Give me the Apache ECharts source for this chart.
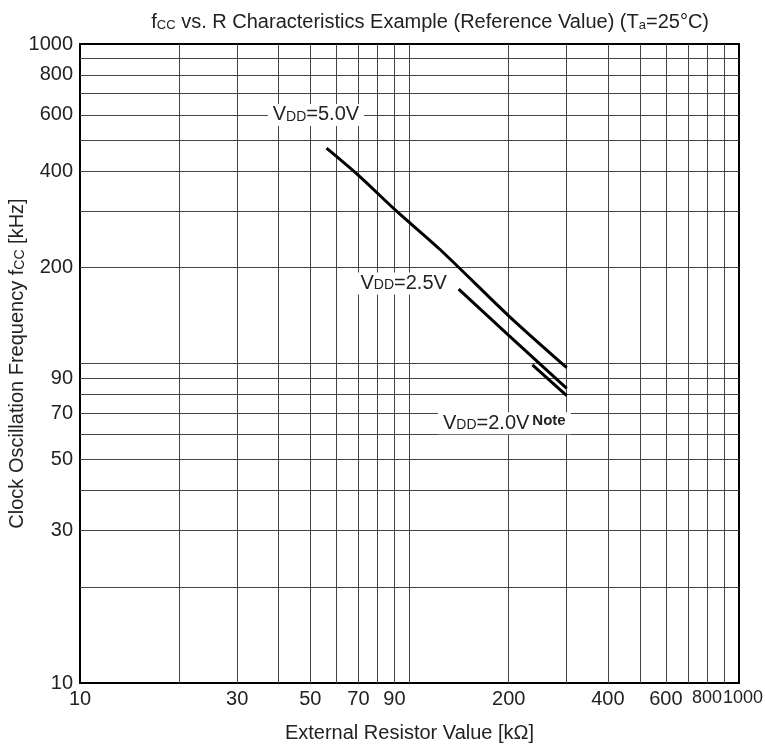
<!DOCTYPE html>
<html>
<head>
<meta charset="utf-8">
<title>fcc vs. R</title>
<script src="https://cdn.jsdelivr.net/npm/echarts@6/dist/echarts.min.js"></script>
<style>
html, body { margin: 0; padding: 0; background: #fff; }
#chart { width: 765px; height: 749px; }
</style>
</head>
<body>
<div id="chart"></div>
<script>
// external resistor [kOhm] vs clock frequency [kHz]
var r50 = [56, 70, 91, 124, 200, 300];
var f50 = [472, 388, 301, 227, 141, 97];
var r25 = [141, 200, 300];
var f25 = [171, 122.5, 83.6];
var r20 = [236, 300];
var f20 = [99, 79.3];

// log grid lines inside the frame, and the printed tick labels
var gridValues = [20, 30, 40, 50, 60, 70, 80, 90, 100, 200, 300, 400, 500, 600, 700, 800, 900];
var tickLabels = [10, 30, 50, 70, 90, 200, 400, 600, 800, 1000];
var xLastLabel = [1000]; // drawn on its own axis so the crowded 800/1000 pair both stay

var FONT = 'Liberation Sans, Arial, Helvetica, sans-serif';
var lg = Math.log10;

function pairs(r, f) {
	return r.map(function (v, i) { return [lg(v), lg(f[i])]; });
}
function fmt(v) {
	var n = Math.round(Math.pow(10, v));
	return n >= 800 ? '{n|' + n + '}' : String(n);
}
function note(text, x, y) {
	return {
		symbol: 'rect',
		symbolSize: 1,
		itemStyle: { color: 'rgba(0,0,0,0)' },
		label: {
			show: true,
			position: 'inside',
			formatter: text,
			color: '#222',
			fontSize: 20,
			fontFamily: FONT,
			backgroundColor: '#fff',
			padding: [1, 5],
			rich: {
				s: { fontSize: 14, fontFamily: FONT, color: '#222', verticalAlign: 'bottom', padding: [0, 0, 1, 0] },
				b: { fontSize: 15, fontWeight: 'bold', fontFamily: FONT, color: '#222', verticalAlign: 'top', padding: [0, 0, 0, 3] }
			}
		},
		data: [{ coord: [lg(x), lg(y)] }]
	};
}

var chart = echarts.init(document.getElementById('chart'));

var axisBase = {
	type: 'value',
	min: 1,
	max: 3,
	axisLine: { show: false },
	axisTick: { show: false, customValues: gridValues.map(lg) },
	splitLine: { show: true, lineStyle: { color: '#444', width: 1 } },
	nameLocation: 'middle',
	nameMoveOverlap: false,
	nameTextStyle: {
		fontSize: 20, color: '#222', fontFamily: FONT,
		rich: { s: { fontSize: 14, color: '#222', fontFamily: FONT, verticalAlign: 'bottom' } }
	}
};

var option = {
	animation: false,
	backgroundColor: '#fff',
	title: {
		text: 'f{s|CC} vs. R Characteristics Example (Reference Value) (T{s|a}=25°C)',
		right: 51,
		top: 7,
		textStyle: {
			fontSize: 20, fontWeight: 'normal', color: '#222', fontFamily: FONT,
			rich: { s: { fontSize: 13, color: '#222', fontFamily: FONT, verticalAlign: 'bottom' } }
		}
	},
	grid: {
		left: 80, right: 26, top: 44, bottom: 66,
		show: true, borderColor: '#000', borderWidth: 2,
		containLabel: false,
		outerBoundsMode: 'none'
	},
	xAxis: [
		Object.assign({}, axisBase, {
			position: 'bottom',
			name: 'External Resistor Value [kΩ]',
			nameGap: 40,
			axisLabel: {
				customValues: tickLabels.filter(function (v) { return xLastLabel.indexOf(v) < 0; }).map(lg),
				formatter: fmt,
				hideOverlap: false,
				margin: 6,
				fontSize: 20,
				color: '#222',
				fontFamily: FONT,
				rich: { n: { fontSize: 18, color: '#222', fontFamily: FONT } }
			}
		}),
		{
			type: 'value',
			min: 1,
			max: 3,
			position: 'bottom',
			offset: 0,
			axisLine: { show: false },
			axisTick: { show: false },
			splitLine: { show: false },
			axisLabel: {
				customValues: xLastLabel.map(lg),
				formatter: function (v) { return '{n|' + Math.round(Math.pow(10, v)) + '}'; },
				margin: 6,
				fontSize: 20,
				color: '#222',
				fontFamily: FONT,
				rich: { n: { fontSize: 18, color: '#222', fontFamily: FONT, padding: [0, 0, 0, 8] } }
			}
		}
	],
	yAxis: Object.assign({}, axisBase, {
		name: 'Clock Oscillation Frequency f{s|CC} [kHz]',
		nameGap: 53,
		axisLabel: {
			customValues: tickLabels.map(lg),
			formatter: function (v) { return String(Math.round(Math.pow(10, v))); },
			margin: 7,
			fontSize: 20,
			color: '#222',
			fontFamily: FONT
		}
	}),
	series: [
		{
			type: 'line', name: 'VDD=5.0V', data: pairs(r50, f50),
			symbol: 'none', smooth: 0.3, lineStyle: { color: '#000', width: 3 },
			markPoint: note('V{s|DD}=5.0V', 52, 600)
		},
		{
			type: 'line', name: 'VDD=2.5V', data: pairs(r25, f25),
			symbol: 'none', lineStyle: { color: '#000', width: 3 },
			markPoint: note('V{s|DD}=2.5V', 96, 178)
		},
		{
			type: 'line', name: 'VDD=2.0V', data: pairs(r20, f20),
			symbol: 'none', lineStyle: { color: '#000', width: 3 },
			markPoint: note('V{s|DD}=2.0V{b|Note}', 194, 65)
		}
	]
};

chart.setOption(option);
</script>
</body>
</html>
